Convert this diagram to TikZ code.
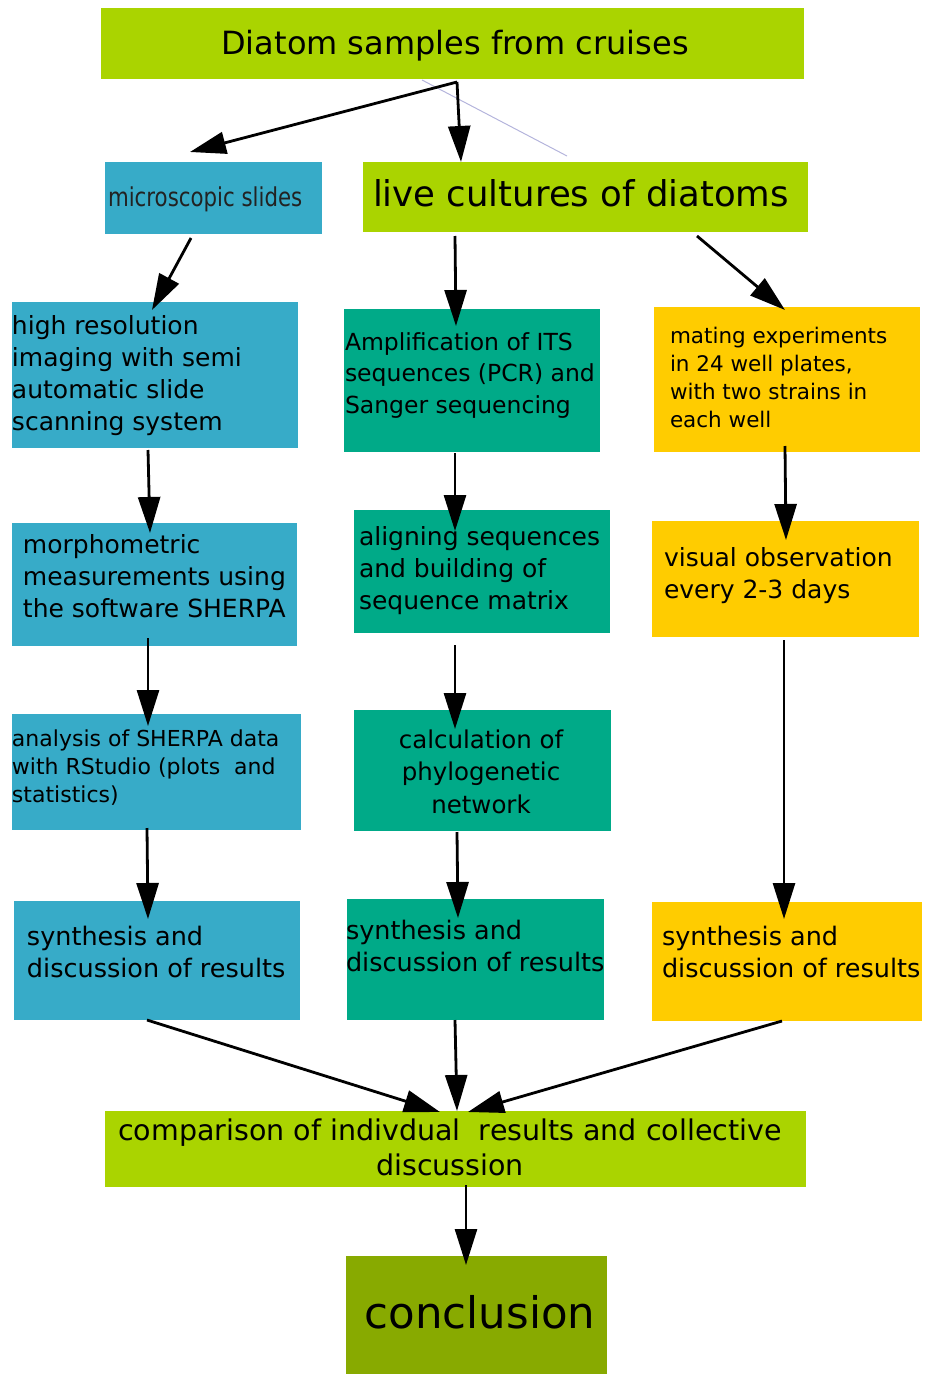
\documentclass[tikz,border=0pt]{standalone}
\usepackage{fontspec}
\setmainfont{DejaVu Sans}
\newfontfamily\narrowfont[FakeStretch=0.82]{DejaVu Sans}
\usetikzlibrary{arrows.meta,calc}

\definecolor{limegreen}{HTML}{AAD400}
\definecolor{skyblue}{HTML}{37ABC8}
\definecolor{seateal}{HTML}{00AA88}
\definecolor{sunyellow}{HTML}{FFCC00}
\definecolor{olivegreen}{HTML}{88AA00}
\definecolor{hairline}{HTML}{B4B4DC}
\definecolor{darkink}{HTML}{222222}

\begin{document}
\begin{tikzpicture}[x=1pt,y=-1pt,
  panel/.style={rectangle, inner sep=0pt, outer sep=0pt, anchor=north west, draw=none},
  % multi-line texts are placed by the baseline of their last line
  txt/.style={inner sep=0pt, outer sep=0pt, align=left, anchor=base west, text=black},
  ctxt/.style={inner sep=0pt, outer sep=0pt, align=center, anchor=base, text=black},
  arr/.style={-{Triangle[length=36pt,width=22pt]}, line width=2.8pt, black},
]
\useasboundingbox (0,0) rectangle (924,1375);

% ---------- boxes ----------
\node[panel, fill=limegreen, minimum width=703pt, minimum height=71pt] (title) at (101,8) {};
\node[panel, fill=skyblue, minimum width=217pt, minimum height=72pt] (micro) at (105,162) {};
\node[panel, fill=limegreen, minimum width=445pt, minimum height=70pt] (live) at (363,162) {};
\node[panel, fill=skyblue, minimum width=286pt, minimum height=146pt] (hires) at (12,302) {};
\node[panel, fill=seateal, minimum width=256pt, minimum height=143pt] (amp) at (344,309) {};
\node[panel, fill=sunyellow, minimum width=266pt, minimum height=145pt] (mating) at (654,307) {};
\node[panel, fill=skyblue, minimum width=285pt, minimum height=123pt] (morph) at (12,523) {};
\node[panel, fill=seateal, minimum width=256pt, minimum height=123pt] (align) at (354,510) {};
\node[panel, fill=sunyellow, minimum width=267pt, minimum height=116pt] (visual) at (652,521) {};
\node[panel, fill=skyblue, minimum width=289pt, minimum height=116pt] (analysis) at (12,714) {};
\node[panel, fill=seateal, minimum width=257pt, minimum height=121pt] (calcnet) at (354,710) {};
\node[panel, fill=skyblue, minimum width=286pt, minimum height=119pt] (synB) at (14,901) {};
\node[panel, fill=seateal, minimum width=257pt, minimum height=121pt] (synT) at (347,899) {};
\node[panel, fill=sunyellow, minimum width=270pt, minimum height=119pt] (synY) at (652,902) {};
\node[panel, fill=limegreen, minimum width=701pt, minimum height=76pt] (comp) at (105,1111) {};
\node[panel, fill=olivegreen, minimum width=261pt, minimum height=118pt] (concl) at (346,1256) {};

% ---------- texts ----------
\node[ctxt, font=\fontsize{32}{38}\selectfont] (title-t) at (455,55) {Diatom samples from cruises};
\node[txt, font=\narrowfont\fontsize{26}{30}\selectfont, text=darkink] (micro-t) at (108,206) {microscopic slides};
\node[txt, font=\fontsize{35.5}{40}\selectfont] (live-t) at (373,207) {live cultures of diatoms};
\node[txt, font=\fontsize{25}{32}\selectfont] (hires-t) at (12,430)
  {high resolution\\imaging with semi\\automatic slide\\scanning system};
\node[txt, font=\fontsize{23.5}{31.5}\selectfont] (amp-t) at (345,413)
  {Amplification of ITS\\sequences (PCR) and\\Sanger sequencing};
\node[txt, font=\fontsize{21.5}{28}\selectfont] (mating-t) at (670,427)
  {mating experiments\\in 24 well plates,\\with two strains in\\each well};
\node[txt, font=\fontsize{25}{32}\selectfont] (morph-t) at (23,617)
  {morphometric\\measurements using\\the software SHERPA};
\node[txt, font=\fontsize{25}{32}\selectfont] (align-t) at (359,609)
  {aligning sequences\\and building of\\sequence matrix};
\node[txt, font=\fontsize{25}{32}\selectfont] (visual-t) at (664,598)
  {visual observation\\every 2-3 days};
\node[txt, font=\fontsize{22}{28}\selectfont] (analysis-t) at (12,802)
  {analysis of SHERPA data\\with RStudio (plots\ \ and\\statistics)};
\node[ctxt, font=\fontsize{24.5}{32.5}\selectfont] (calcnet-t) at (481,813)
  {calculation of\\phylogenetic\\network};
\node[txt, font=\fontsize{25.5}{32}\selectfont] (synB-t) at (27,977)
  {synthesis and\\discussion of results};
\node[txt, font=\fontsize{25.5}{32}\selectfont] (synT-t) at (346,971)
  {synthesis and\\discussion of results};
\node[txt, font=\fontsize{25.5}{32}\selectfont] (synY-t) at (662,977)
  {synthesis and\\discussion of results};
\node[ctxt, font=\fontsize{28.5}{35}\selectfont] (comp-t) at (450,1175)
  {comparison of indivdual\ \ results and collective\\discussion};
\node[ctxt, font=\fontsize{43.5}{50}\selectfont] (concl-t) at (480,1328) {conclusion};

% ---------- connectors ----------
\draw[hairline, line width=1pt] ($(title.north west)+(321,72)$) -- ($(live.north west)+(204,-6)$);
\draw[arr] ($(title.north west)+(356,74)$) -- ($(micro.north west)+(85,-10)$);
\draw[arr] ($(title.north west)+(356,74)$) -- ($(live.north west)+(98,0)$);
\draw[arr] ($(micro.north west)+(86,76)$) -- ($(hires.north west)+(140,8)$);
\draw[arr] ($(live.north west)+(92,74)$) -- ($(amp.north west)+(112,17)$);
\draw[arr] ($(live.north west)+(334,74)$) -- ($(mating.north west)+(131,3)$);
\draw[arr] ($(hires.north west)+(136,148)$) -- ($(morph.north west)+(138,10)$);
\draw[arr] ($(amp.north west)+(111,144)$) -- ($(align.north west)+(101,21)$);
\draw[arr] ($(mating.north west)+(131,139)$) -- ($(visual.north west)+(134,19)$);
\draw[arr] ($(morph.north west)+(136,115)$) -- ($(analysis.north west)+(136,12)$);
\draw[arr] ($(align.north west)+(101,135)$) -- ($(calcnet.north west)+(101,19)$);
\draw[arr] ($(visual.north west)+(132,119)$) -- ($(synY.north west)+(132,17)$);
\draw[arr] ($(analysis.north west)+(135,114)$) -- ($(synB.north west)+(134,18)$);
\draw[arr] ($(calcnet.north west)+(103,122)$) -- ($(synT.north west)+(111,19)$);
\draw[arr] ($(synB.north west)+(133,119)$) -- ($(comp.north west)+(335,1)$);
\draw[arr] ($(synT.north west)+(108,121)$) -- ($(comp.north west)+(352,0)$);
\draw[arr] ($(synY.north west)+(130,119)$) -- ($(comp.north west)+(363,1)$);
\draw[arr] ($(comp.north west)+(361,74)$) -- ($(concl.north west)+(120,9)$);
\end{tikzpicture}
\end{document}
